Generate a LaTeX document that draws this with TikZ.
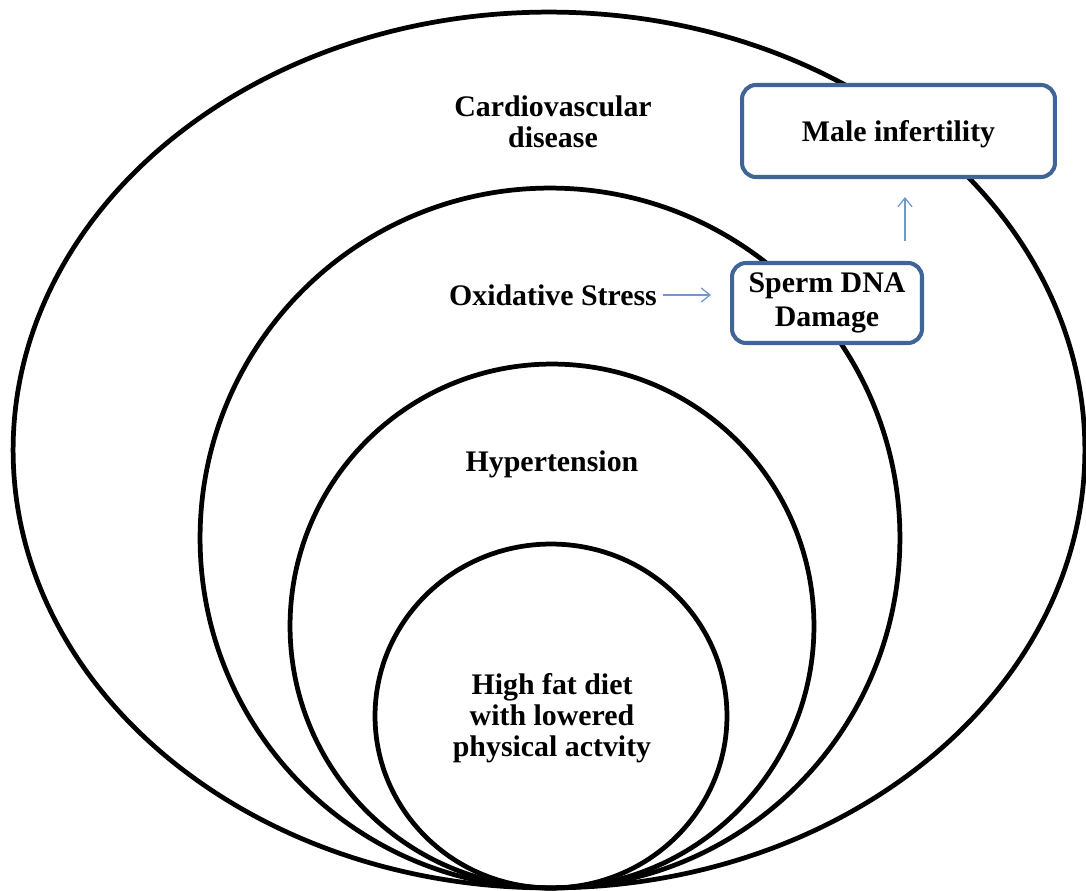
\documentclass[tikz,border=0pt]{standalone}
\usepackage{fontspec}
\setmainfont{Liberation Serif}
\usetikzlibrary{arrows.meta,positioning,calc}

\definecolor{boxblue}{HTML}{3E6595}
\definecolor{linkblue}{HTML}{7098CC}

\tikzset{
  ring/.style={draw=black, line width=2.7pt},
  lbl/.style={font=\fontsize{17}{17.5}\selectfont\bfseries, align=center, inner sep=0pt},
  outcome/.style={lbl, draw=boxblue, line width=2.3pt, fill=white, rounded corners=0.28cm},
  link/.style={-{Straight Barb[length=5pt,width=8pt]}, draw=linkblue, line width=0.7pt}
}

\begin{document}
\begin{tikzpicture}[x=0.02cm, y=0.02cm]
\useasboundingbox (0,0) rectangle (1086,890);

% nested rings, all touching at the bottom
\draw[ring] (549,440) ellipse [x radius=10.72cm, y radius=8.76cm];
\draw[ring] (550,352) circle [radius=7cm];
\draw[ring] (552,264) circle [radius=5.24cm];
\draw[ring] (551,174) ellipse [x radius=3.52cm, y radius=3.44cm];

\node at (553,768) [lbl] (cvd) {Cardiovascular\\disease};
\node at (553,595) [lbl] (oxs) {Oxidative Stress};
\node at (552,426) [lbl] (hyp) {Hypertension};
\node at (552,172) [lbl] (diet) {High fat diet\\with lowered\\physical actvity};

\node at (898.5,759) [outcome, minimum width=6.26cm, minimum height=1.84cm, text depth=0pt] (male) {Male infertility};
\node at (827,587) [outcome, minimum width=3.8cm, minimum height=1.6cm,
  font=\fontsize{17}{19.5}\selectfont\bfseries] (sperm) {Sperm DNA\\Damage};

\draw[link, shorten <=0.12cm, shorten >=0.38cm] (oxs.east) -- (sperm.west |- oxs.east);
\draw[link, shorten <=0.4cm, shorten >=0.36cm] ([xshift=-0.38cm]sperm.north east) -- ([xshift=-0.38cm]sperm.north east |- male.south);

\end{tikzpicture}
\end{document}
